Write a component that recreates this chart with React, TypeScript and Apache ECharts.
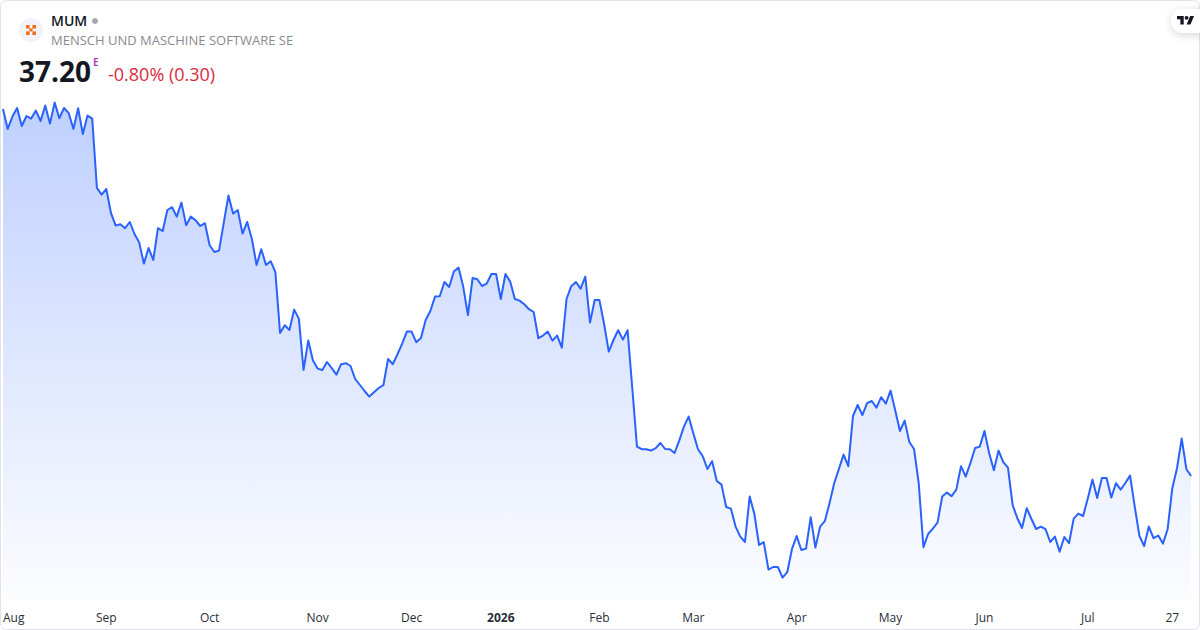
import React, { useEffect, useRef } from "react";
import * as echarts from "echarts";

const prices: number[] = [
  55.55, 54.55, 55.17, 55.6, 54.7, 55.2, 55.07, 55.47, 54.95, 55.72,
  54.82, 55.87, 55.09, 55.6, 55.34, 54.55, 55.59, 54.3, 55.22, 55.07,
  51.6, 51.27, 51.55, 50.34, 49.72, 49.79, 49.59, 49.9, 49.3, 48.87,
  47.82, 48.6, 48.0, 49.59, 49.45, 50.5, 50.64, 50.17, 50.87, 49.74,
  50.17, 49.99, 49.7, 49.84, 48.74, 48.4, 48.47, 49.84, 51.22, 50.32,
  50.5, 49.32, 49.9, 49.05, 47.75, 48.54, 47.75, 47.94, 47.39, 44.35,
  44.74, 44.5, 45.52, 45.07,
  42.5, 43.97, 42.97, 42.57, 42.5, 42.9, 42.59, 42.27, 42.79, 42.84,
  42.7, 42.05, 41.75, 41.45, 41.17, 41.39, 41.6, 41.74, 43.05, 42.79,
  43.29, 43.82, 44.42, 44.42, 43.89, 44.1, 45.0, 45.45, 46.17, 46.19,
  46.9, 46.65, 47.42, 47.62, 46.67, 45.25, 47.1, 47.04, 46.7, 46.82,
  47.3, 47.3, 46.05, 47.3, 46.92, 46.05, 45.97, 45.79, 45.54, 45.4,
  44.09, 44.22, 44.42, 43.97, 44.22, 43.62, 46.05, 46.69, 46.9, 46.57,
  47.17, 44.87, 46.0, 46.0, 44.8, 43.42, 44.0, 44.49, 44.02, 44.49,
  41.6, 38.67, 38.54, 38.54, 38.47, 38.59, 38.85, 38.55, 38.54, 38.35,
  38.97, 39.67, 40.17, 39.34, 38.54, 38.19, 37.55, 37.94, 36.95, 36.77,
  35.65, 35.57, 34.67, 34.17, 33.9, 36.17, 35.3, 33.75, 33.89, 32.52,
  32.65, 32.65, 32.12, 32.39, 33.54, 34.2, 33.5, 33.57, 35.14, 33.62,
  34.67, 34.94, 35.84, 36.84, 37.55, 38.27, 37.69, 40.2, 40.75, 40.24,
  40.84, 40.95, 40.62, 41.14, 40.82, 41.47,
  40.47, 39.45, 39.97, 38.9, 38.55, 36.84, 33.64, 34.3, 34.57, 34.87,
  36.17, 36.37, 36.19, 36.52, 37.69, 37.17, 37.84, 38.6, 38.67, 39.45,
  38.34, 37.49, 38.47, 37.89, 37.62, 35.74, 35.09, 34.6, 35.59, 35.05,
  34.55, 34.67, 34.54, 33.9, 34.17, 33.42, 34.15, 33.84, 35.07, 35.32,
  35.2, 36.07, 37.02, 36.1, 37.1, 37.1, 36.12, 36.84, 36.52, 36.85,
  37.22, 35.67, 34.2, 33.7, 34.67, 34.09, 34.22, 33.82, 34.54, 36.59,
  37.59, 39.07, 37.54, 37.2,
];

const closedDays: string[] = [
  "2025-12-24", "2025-12-25", "2025-12-26", "2025-12-31", "2026-01-01",
  "2026-04-03", "2026-04-06", "2026-05-01",
];

const tickDates: string[] = [
  "2025-07-31", "2025-09-01", "2025-10-01", "2025-11-03", "2025-12-01", "2026-01-02",
  "2026-02-02", "2026-03-02", "2026-04-01", "2026-05-04", "2026-06-01", "2026-07-01", "2026-07-27",
];
const tickLabels: string[] = ["Aug", "Sep", "Oct", "Nov", "Dec", "2026", "Feb", "Mar", "Apr", "May", "Jun", "Jul", "27"];

function tradingDays(): string[] {
  const out: string[] = [];
  const d = new Date(Date.UTC(2025, 6, 31));
  const end = Date.UTC(2026, 6, 31);
  while (d.getTime() <= end) {
    const s = d.toISOString().slice(0, 10);
    const wd = d.getUTCDay();
    if (wd !== 0 && wd !== 6 && !closedDays.includes(s)) out.push(s);
    d.setUTCDate(d.getUTCDate() + 1);
  }
  return out;
}

const categories = tradingDays();
const FONT = "'Open Sans', sans-serif";

echarts.graphic.registerShape(
  "tvlogo",
  echarts.graphic.extendPath(
    "M14 22H7V11H0V4h14v18zM28 22h-8l7.5-18h8L28 22zM24 8a4 4 0 1 1-8 0 4 4 0 1 1 8 0z",
    {}
  )
);

export default function App() {
  const ref = useRef<HTMLDivElement>(null);
  useEffect(() => {
    const chart = echarts.init(ref.current!, null, { renderer: "svg" });
    chart.setOption({
      animation: false,
      backgroundColor: "#ffffff",
      grid: { left: 2, right: 8.9, top: 0, bottom: 30 },
      xAxis: {
        type: "category",
        data: categories,
        boundaryGap: false,
        axisLine: { show: false },
        axisTick: { show: false },
        splitLine: { show: false },
        axisLabel: {
          show: true,
          hideOverlap: false,
          alignMinLabel: "left",
          margin: 11,
          fontFamily: FONT,
          fontSize: 12,
          color: "#2a2e39",
          interval: (_i: number, v: string) => tickDates.includes(v),
          formatter: (v: string) => {
            const label = tickLabels[tickDates.indexOf(v)];
            return label === "2026" ? `{b|${label}}` : label;
          },
          rich: { b: { fontFamily: FONT, fontSize: 12, fontWeight: "bold", color: "#2a2e39" } },
        },
      },
      yAxis: { type: "value", min: 31, max: 61, show: false, splitLine: { show: false } },
      series: [
        {
          type: "line",
          data: prices,
          showSymbol: false,
          symbol: "none",
          smooth: false,
          lineStyle: { color: "#2962ff", width: 2, join: "round" },
          areaStyle: {
            opacity: 1,
            origin: "start",
            color: {
              type: "linear",
              x: 0,
              y: 102,
              x2: 0,
              y2: 625,
              global: true,
              colorStops: [
                { offset: 0, color: "rgba(41,98,255,0.3)" },
                { offset: 1, color: "rgba(41,98,255,0)" },
              ],
            },
          },
        },
      ],
      graphic: [
        { type: "rect", silent: true, shape: { x: 0.5, y: 0.5, width: 1199, height: 629, r: 6 }, style: { fill: "none", stroke: "#e0e3eb", lineWidth: 1 } },
        { type: "circle", shape: { cx: 31, cy: 30, r: 12 }, style: { fill: "#f0f3fa" } },
        { type: "rect", shape: { x: 26, y: 25, width: 3.6, height: 3.6 }, style: { fill: "#f26d21" } },
        { type: "rect", shape: { x: 32.4, y: 25, width: 3.6, height: 3.6 }, style: { fill: "#f26d21" } },
        { type: "rect", shape: { x: 26, y: 31.4, width: 3.6, height: 3.6 }, style: { fill: "#f26d21" } },
        { type: "rect", shape: { x: 32.4, y: 31.4, width: 3.6, height: 3.6 }, style: { fill: "#f26d21" } },
        { type: "rect", shape: { x: 29.4, y: 28.4, width: 3.2, height: 3.2 }, style: { fill: "#f26d21" } },
        { type: "text", x: 51, y: 20.5, style: { text: "MUM", font: `600 14px ${FONT}`, fill: "#131722", verticalAlign: "middle" } },
        { type: "circle", shape: { cx: 95, cy: 21, r: 3 }, style: { fill: "#a3a6af" } },
        { type: "text", x: 51, y: 39.5, style: { text: "MENSCH UND MASCHINE SOFTWARE SE", font: `13px ${FONT}`, fill: "#8a8a8f", verticalAlign: "middle" } },
        { type: "text", x: 19, y: 70.5, style: { text: "37.20", font: `700 28px ${FONT}`, fill: "#131722", verticalAlign: "middle" } },
        { type: "text", x: 93, y: 61.5, style: { text: "E", font: `700 10px ${FONT}`, fill: "#ab47bc", verticalAlign: "middle" } },
        { type: "text", x: 108, y: 74, style: { text: "-0.80% (0.30)", font: `18px ${FONT}`, fill: "#d9293f", verticalAlign: "middle" } },
        { type: "rect", shape: { x: 1171, y: 9, width: 50, height: 24, r: 12 }, style: { fill: "#ffffff", shadowColor: "rgba(19,23,34,0.16)", shadowBlur: 8, shadowOffsetY: 2 } },
        { type: "tvlogo", x: 1177, y: 14, scaleX: 0.48, scaleY: 0.48, style: { fill: "#131722" } },
      ],
    });
    return () => chart.dispose();
  }, []);
  return (
    <div
      ref={ref}
      style={{ position: "absolute", left: 0, top: 0, width: 1200, height: 630, background: "#fff" }}
    />
  );
}
